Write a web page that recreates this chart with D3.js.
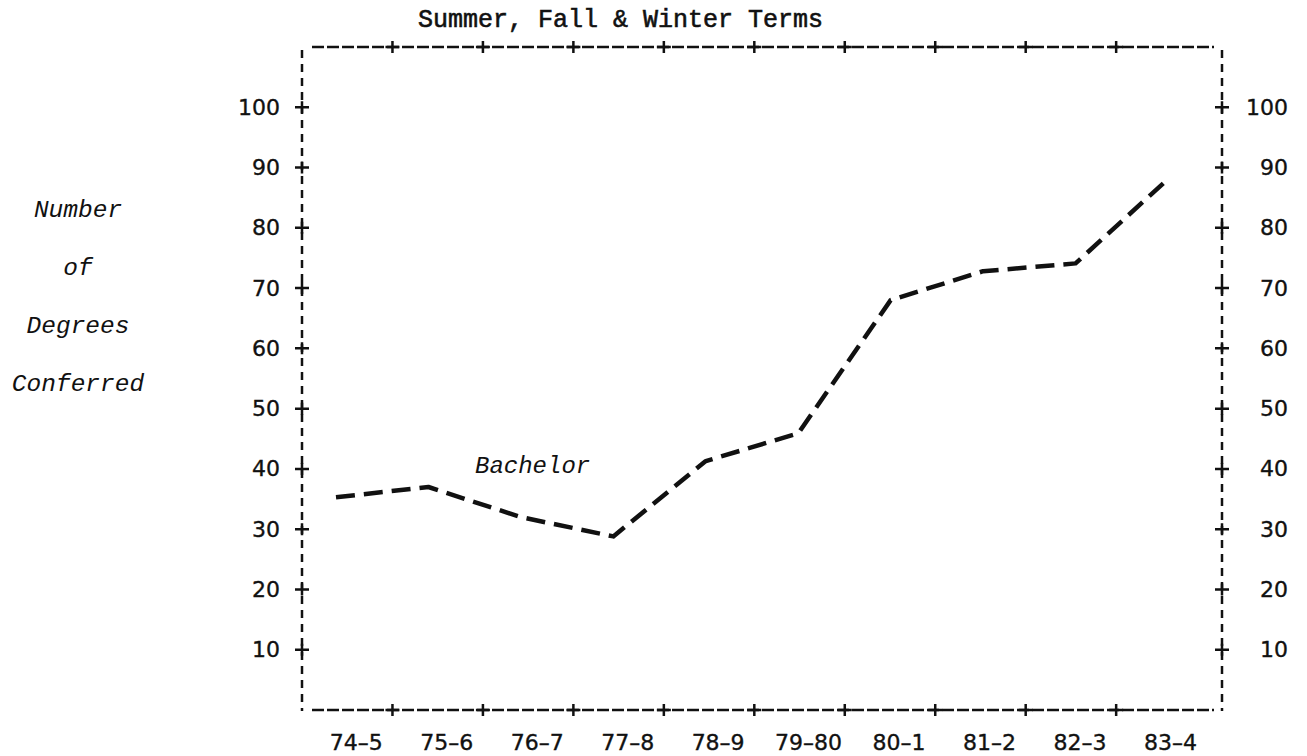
<!DOCTYPE html>
<html>
<head>
<meta charset="utf-8">
<script src="https://cdn.jsdelivr.net/npm/d3@7"></script>
<style>
  html, body { margin: 0; padding: 0; background: #fff; }
  svg { display: block; }
  .tick-label { font-family: 'DejaVu Sans', sans-serif; font-size: 22px; fill: #111; stroke: #111; stroke-width: 0.35px; }
  .mono { font-family: 'Liberation Mono', 'DejaVu Sans Mono', monospace; fill: #111; }
</style>
</head>
<body>
<div id="chart"></div>
<script>
// Periods (academic years) and degrees conferred
const PERIODS = ['74–5', '75–6', '76–7', '77–8', '78–9', '79–80', '80–1', '81–2', '82–3', '83–4'];
const DEGREES = [35.3, 37.0, 32.0, 28.8, 41.3, 45.9, 68.0, 72.8, 74.1, 88.1];
const Y_TICKS = [10, 20, 30, 40, 50, 60, 70, 80, 90, 100];
const Y_TITLE = ['Number', 'of', 'Degrees', 'Conferred'];

const W = 1307, H = 756;
const FRAME = { left: 302, right: 1222, top: 47, bottom: 710 };

const svg = d3.select('#chart').append('svg')
  .attr('width', W)
  .attr('height', H)
  .attr('viewBox', `0 0 ${W} ${H}`);

const y = d3.scaleLinear().domain([0, 110]).range([FRAME.bottom, FRAME.top]);

// column scale of the printer frame: label i sits at i, separators at i + 0.4
const xFrame = d3.scaleLinear().domain([-0.6, 9.57]).range([FRAME.left, FRAME.right]);
// data points are plotted on their own columns
const xData = d3.scalePoint().domain(PERIODS).range([336, 1168]);

const ink = '#111';

// --- frame (dashed, typewriter-like) ---
const frame = svg.append('g').attr('stroke', ink).attr('stroke-width', 2.5).attr('fill', 'none');
frame.append('line')
  .attr('x1', FRAME.left + 10).attr('x2', FRAME.right - 8)
  .attr('y1', FRAME.top).attr('y2', FRAME.top)
  .attr('stroke-dasharray', '12,3');
frame.append('line')
  .attr('x1', FRAME.left + 10).attr('x2', FRAME.right - 8)
  .attr('y1', FRAME.bottom).attr('y2', FRAME.bottom)
  .attr('stroke-dasharray', '12,3');
for (const xv of [FRAME.left, FRAME.right]) {
  frame.append('line')
    .attr('x1', xv).attr('x2', xv)
    .attr('y1', FRAME.top + 3).attr('y2', FRAME.bottom + 1)
    .attr('stroke-dasharray', '8,6');
}

// separators "+" on top and bottom borders
const sepIdx = d3.range(PERIODS.length - 1).map((i) => i + 0.4);
for (const yv of [FRAME.top, FRAME.bottom]) {
  frame.selectAll(null)
    .data(sepIdx)
    .enter()
    .append('path')
    .attr('d', (d) => `M${xFrame(d)},${yv - 6}V${yv + 6}M${xFrame(d) - 7},${yv}H${xFrame(d) + 7}`);
}

// "+" ticks on both vertical borders
for (const xv of [FRAME.left, FRAME.right]) {
  frame.selectAll(null)
    .data(Y_TICKS)
    .enter()
    .append('path')
    .attr('d', (d) => `M${xv - 7},${y(d)}H${xv + 7}M${xv},${y(d) - 6}V${y(d) + 6}`);
}

// --- tick labels ---
svg.append('g')
  .attr('transform', `translate(${FRAME.left},0)`)
  .call(d3.axisLeft(y).tickValues(Y_TICKS).tickSize(0).tickPadding(22))
  .call((ax) => ax.select('.domain').remove())
  .call((ax) => ax.selectAll('text').attr('class', 'tick-label').attr('fill', ink).attr('font-family', null).attr('font-size', null));

svg.append('g')
  .attr('transform', `translate(${FRAME.right},0)`)
  .call(d3.axisRight(y).tickValues(Y_TICKS).tickSize(0).tickPadding(26))
  .call((ax) => ax.select('.domain').remove())
  .call((ax) => ax.selectAll('text')
    .attr('class', 'tick-label').attr('fill', ink).attr('font-family', null).attr('font-size', null)
    .attr('text-anchor', 'end').attr('x', 66));

svg.append('g')
  .selectAll('text')
  .data(PERIODS)
  .enter()
  .append('text')
  .attr('class', 'tick-label')
  .attr('x', (d, i) => xFrame(i))
  .attr('y', 750)
  .attr('text-anchor', 'middle')
  .text((d) => d);

// --- title and axis title ---
svg.append('text')
  .attr('class', 'mono')
  .attr('x', 418)
  .attr('y', 27)
  .attr('stroke', ink)
  .attr('stroke-width', 0.6)
  .style('font-size', '25px')
  .text('Summer, Fall & Winter Terms');

svg.append('g')
  .selectAll('text')
  .data(Y_TITLE)
  .enter()
  .append('text')
  .attr('class', 'mono')
  .attr('x', 78)
  .attr('y', (d, i) => 217 + i * 58)
  .attr('text-anchor', 'middle')
  .style('font-size', '24.5px')
  .style('font-style', 'italic')
  .text((d) => d);

// --- the Bachelor series ---
const line = d3.line()
  .x((d, i) => xData(PERIODS[i]))
  .y((d) => y(d));

svg.append('path')
  .datum(DEGREES)
  .attr('d', line)
  .attr('fill', 'none')
  .attr('stroke', ink)
  .attr('stroke-width', 4.5)
  .attr('stroke-dasharray', '19,9')
  .attr('stroke-linejoin', 'round');

svg.append('text')
  .attr('class', 'mono')
  .attr('x', 475)
  .attr('y', 473)
  .style('font-size', '24px')
  .style('font-style', 'italic')
  .text('Bachelor');
</script>
</body>
</html>
